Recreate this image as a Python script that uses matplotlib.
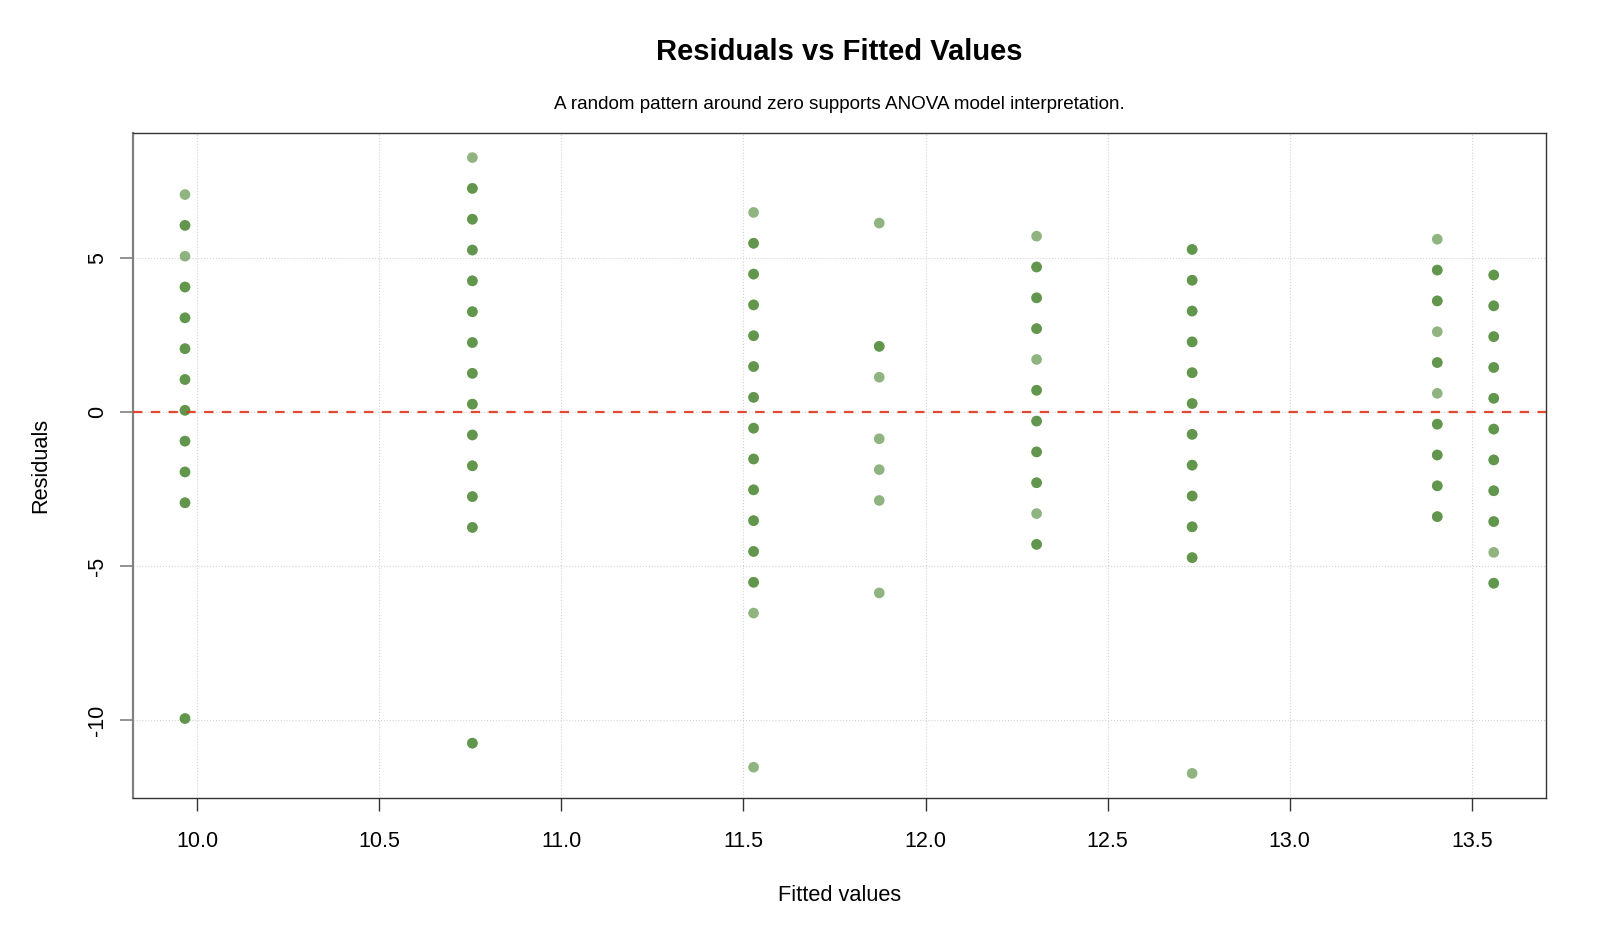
import matplotlib.pyplot as plt
import numpy as np

plt.rcParams['font.family'] = ['Liberation Sans', 'DejaVu Sans']

# fitted value of each group (one vertical strip per group)
fitted = [9.967, 10.756, 11.528, 11.873, 12.305, 12.732, 13.405, 13.56]

# residuals per group, and how many observations overlap at each spot
res_g1 = [7.05, 6.05, 5.05, 4.05, 3.05, 2.05, 1.05, 0.05, -0.95, -1.95, -2.95, -9.95]
cnt_g1 = [1, 2, 1, 2, 2, 2, 2, 2, 2, 2, 2, 2]
res_g2 = [8.25, 7.25, 6.25, 5.25, 4.25, 3.25, 2.25, 1.25, 0.25, -0.75, -1.75, -2.75, -3.75, -10.75]
cnt_g2 = [1, 2, 2, 2, 2, 2, 2, 2, 2, 2, 2, 2, 2, 2]
res_g3 = [6.47, 5.47, 4.47, 3.47, 2.47, 1.47, 0.47, -0.53, -1.53, -2.53, -3.53, -4.53, -5.53, -6.53, -11.53]
cnt_g3 = [1, 2, 2, 2, 2, 2, 2, 2, 2, 2, 2, 2, 2, 1, 1]
res_g4 = [6.125, 2.125, 1.125, -0.875, -1.875, -2.875, -5.875]
cnt_g4 = [1, 2, 1, 1, 1, 1, 1]
res_g5 = [5.7, 4.7, 3.7, 2.7, 1.7, 0.7, -0.3, -1.3, -2.3, -3.3, -4.3]
cnt_g5 = [1, 2, 2, 2, 1, 2, 2, 2, 2, 1, 2]
res_g6 = [5.27, 4.27, 3.27, 2.27, 1.27, 0.27, -0.73, -1.73, -2.73, -3.73, -4.73, -11.73]
cnt_g6 = [2, 2, 2, 2, 2, 2, 2, 2, 2, 2, 2, 1]
res_g7 = [5.6, 4.6, 3.6, 2.6, 1.6, 0.6, -0.4, -1.4, -2.4, -3.4]
cnt_g7 = [1, 2, 2, 1, 2, 1, 2, 2, 2, 2]
res_g8 = [4.44, 3.44, 2.44, 1.44, 0.44, -0.56, -1.56, -2.56, -3.56, -4.56, -5.56]
cnt_g8 = [2, 2, 2, 2, 2, 2, 2, 2, 2, 1, 2]

residuals = [res_g1, res_g2, res_g3, res_g4, res_g5, res_g6, res_g7, res_g8]
counts = [cnt_g1, cnt_g2, cnt_g3, cnt_g4, cnt_g5, cnt_g6, cnt_g7, cnt_g8]

xticks = [10.0, 10.5, 11.0, 11.5, 12.0, 12.5, 13.0, 13.5]
yticks = [-10, -5, 0, 5]

# expand to one entry per observation
xs, ys = [], []
for f, res, cnt in zip(fitted, residuals, counts):
    for r, c in zip(res, cnt):
        xs += [f] * c
        ys += [r] * c
xs = np.array(xs)
ys = np.array(ys)

fig = plt.figure(figsize=(16, 9.33), dpi=100)
ax = fig.add_axes([0.0829, 0.1447, 0.8834, 0.7128])

ax.grid(True, color='#D3D3D3', linestyle=':', linewidth=0.8, zorder=0)
ax.scatter(xs, ys, s=59, color='#44822A', alpha=0.6, edgecolors='none', zorder=2)
ax.axhline(0, color='#E0361E', alpha=0.9, linewidth=1.6, dashes=(4.2, 3.8), zorder=3)

# R-style 4% padding
xr = xs.max() - xs.min()
yr = ys.max() - ys.min()
ax.set_xlim(xs.min() - 0.04 * xr, xs.max() + 0.04 * xr)
ax.set_ylim(ys.min() - 0.04 * yr, ys.max() + 0.04 * yr)

ax.set_xticks(xticks)
ax.set_xticklabels([f"{v:.1f}" for v in xticks])
ax.set_yticks(yticks)
ax.set_yticklabels([str(v) for v in yticks], rotation=90, va='center')

ax.tick_params(axis='x', length=9.5, width=1, color='#333333', pad=14.5, labelsize=15.5)
ax.tick_params(axis='y', length=9.5, width=1.2, color='#808080', pad=8, labelsize=15.5)

for side in ['top', 'right', 'bottom']:
    ax.spines[side].set_color('#333333')
    ax.spines[side].set_linewidth(1)
ax.spines['left'].set_color('#808080')
ax.spines['left'].set_linewidth(1.6)

ax.set_xlabel("Fitted values", fontsize=15.7, va='center')
ax.set_ylabel("Residuals", fontsize=15.7, va='center')
ax.xaxis.set_label_coords(0.5, -0.146)
ax.yaxis.set_label_coords(-0.0648, 0.5)

fig.text(0.5244, 0.944, "Residuals vs Fitted Values", ha='center', va='center',
         fontsize=21, fontweight='bold')
fig.text(0.5244, 0.8875, "A random pattern around zero supports ANOVA model interpretation.",
         ha='center', va='center', fontsize=13.6)

plt.savefig("out.png", dpi=100)
